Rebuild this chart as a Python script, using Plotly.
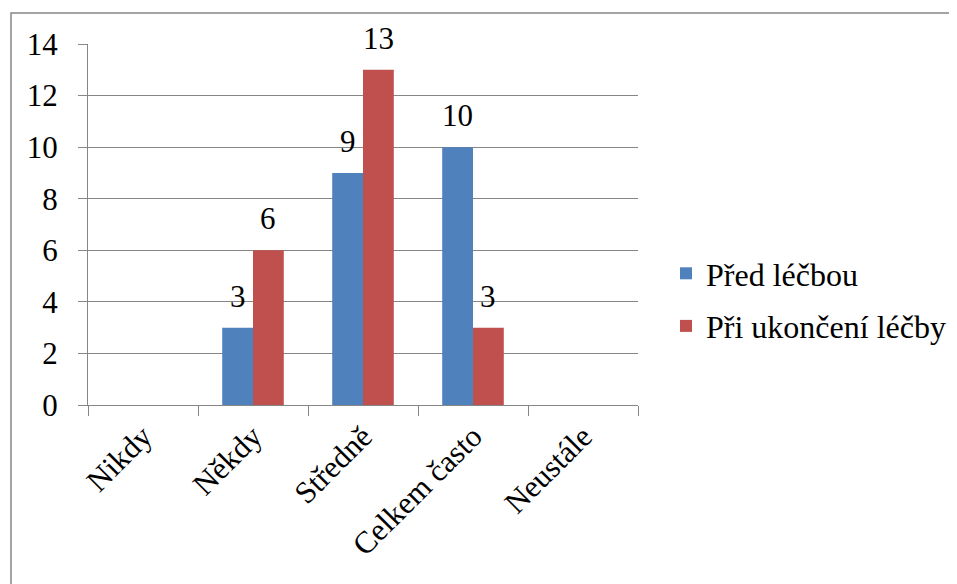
import plotly.graph_objects as go

categories = ["Nikdy", "Někdy", "Středně", "Celkem často", "Neustále"]
series_names = ["Před léčbou", "Při ukončení léčby"]
before = [0, 3, 9, 10, 0]
after = [0, 6, 13, 3, 0]
y_ticks = [0, 2, 4, 6, 8, 10, 12, 14]

colors = ["#4F81BD", "#C0504D"]
FONT = "Liberation Serif"
BARGAP = 0.44

OFF = 8  # default body margin of the page
W, H = 957 - OFF, 584 - OFF
L, R, T, B = 88 - OFF, 957 - 638, 44 - OFF, 584 - 405
pw, ph = W - L - R, H - T - B
def px(x):
    return (x - OFF - L) / pw
def py(y):
    return (H - B - (y - OFF)) / ph

bar_w = pw / len(categories) * (1 - BARGAP) / 2

fig = go.Figure()
annotations = []
for i, (name, vals, col) in enumerate(zip(series_names, [before, after], colors)):
    fig.add_trace(go.Bar(
        x=categories, y=vals, name=name, marker_color=col, marker_line_width=0,
        legendgroup=name,
    ))
    for c, v in zip(categories, vals):
        if v:
            annotations.append(dict(
                x=c, y=v, xref="x", yref="y", text=str(v), showarrow=False,
                xanchor="center", yanchor="bottom", yshift=12,
                xshift=(i - 0.5) * bar_w,
                font=dict(family=FONT, size=31, color="black")))

fig.update_layout(
    width=W, height=H, margin=dict(l=L, r=R, t=T, b=B, autoexpand=False),
    paper_bgcolor="white", plot_bgcolor="white",
    font=dict(family=FONT, size=31, color="black"),
    barmode="group", bargap=BARGAP, bargroupgap=0,
    showlegend=True,
    legend=dict(x=px(666), y=py(300), xanchor="left", yanchor="middle",
                font=dict(family=FONT, size=32), traceorder="grouped",
                tracegroupgap=8, itemwidth=30, bgcolor="rgba(0,0,0,0)"),
    xaxis=dict(type="category", tickson="boundaries", ticks="outside", ticklen=10,
               tickcolor="#868686", tickwidth=1, tickangle=-45,
               showline=True, linecolor="#868686", linewidth=1,
               showgrid=False, tickfont=dict(family=FONT, size=31)),
    yaxis=dict(range=[0, 14], tickvals=y_ticks, ticks="outside", ticklen=9,
               tickcolor="#868686", showline=True, linecolor="#868686",
               showgrid=True, gridcolor="#868686", gridwidth=1, zeroline=False,
               tickfont=dict(family=FONT, size=31), ticklabelstandoff=14),
    annotations=annotations,
    shapes=[dict(type="rect", xref="paper", yref="paper",
                 x0=px(11), x1=px(950), y0=py(640), y1=py(13),
                 line=dict(color="#868686", width=1.5), fillcolor="rgba(0,0,0,0)")],
)

fig.write_html("out.html")
